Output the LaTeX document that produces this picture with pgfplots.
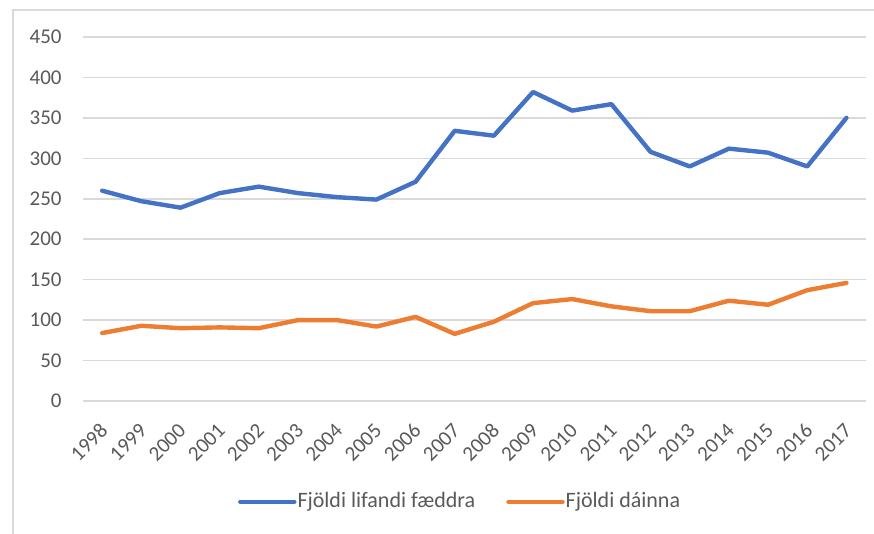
\documentclass[border=0pt]{standalone}
\usepackage{pgfplots}
\pgfplotsset{compat=1.18}
\usepackage{fontspec}
\setmainfont{Carlito}
\definecolor{cblue}{HTML}{4472C4}
\definecolor{corange}{HTML}{ED7D31}
\definecolor{cgrid}{HTML}{D9D9D9}
\definecolor{ctext}{HTML}{595959}
\pgfplotstableread{
x y
0 260
1 247
2 239
3 257
4 265
5 257
6 252
7 249
8 271
9 334
10 328
11 382
12 359
13 367
14 308
15 290
16 312
17 307
18 290
19 350
}\births
\pgfplotstableread{
x y
0 84
1 93
2 90
3 91
4 90
5 100
6 100
7 92
8 104
9 83
10 98
11 121
12 126
13 117
14 111
15 111
16 124
17 119
18 137
19 146
}\deaths
\begin{document}
\fontsize{10.5pt}{12.6pt}\selectfont
\begin{tikzpicture}
\begin{axis}[
  name=ax,
  scale only axis,
  width=391.7pt, height=182pt,
  xmin=-0.5, xmax=19.5,
  ymin=0, ymax=450,
  ytick={0,50,...,450},
  xtick={0,...,19},
  xticklabels={1998,1999,2000,2001,2002,2003,2004,2005,2006,2007,2008,2009,2010,2011,2012,2013,2014,2015,2016,2017},
  axis line style={draw=none},
  major tick length=0pt,
  ymajorgrids,
  grid style={cgrid, line width=0.75pt},
  /pgf/number format/assume math mode=true,
  tick label style={font=\fontsize{10.5pt}{12.6pt}\selectfont, text=ctext},
  yticklabel style={inner sep=0pt, anchor=east, xshift=-10.3pt},
  xticklabel style={yshift=-13pt, xshift=1pt, rotate=45, anchor=east, inner sep=0pt},
  legend columns=2,
  legend style={draw=none, fill=none, at={(0.198,-0.277)}, anchor=west,
    font=\fontsize{11pt}{13pt}\selectfont, text=ctext, inner sep=0pt,
    /tikz/every even column/.append style={column sep=15pt},
    nodes={inner sep=0.5pt}},
  legend image code/.code={\draw[#1] (0pt,0pt) -- (27pt,0pt);},
]
\addplot[cblue, line width=2.2pt, line join=round, line cap=round] table[x=x,y=y] {\births};
\addlegendentry{Fjöldi lifandi fæddra}
\addplot[corange, line width=2.2pt, line join=round, line cap=round] table[x=x,y=y] {\deaths};
\addlegendentry{Fjöldi dáinna}
\end{axis}
\path[use as bounding box] ([shift={(-41.3pt,-66.5pt)}]ax.south west) rectangle ([shift={(395.7pt,200.5pt)}]ax.south west);
\draw[cgrid, line width=0.75pt] ([shift={(-34.8pt,-66.5pt)}]ax.south west) -- ([shift={(-34.8pt,195.5pt)}]ax.south west) -- ([shift={(395.7pt,195.5pt)}]ax.south west);
\end{tikzpicture}
\end{document}
